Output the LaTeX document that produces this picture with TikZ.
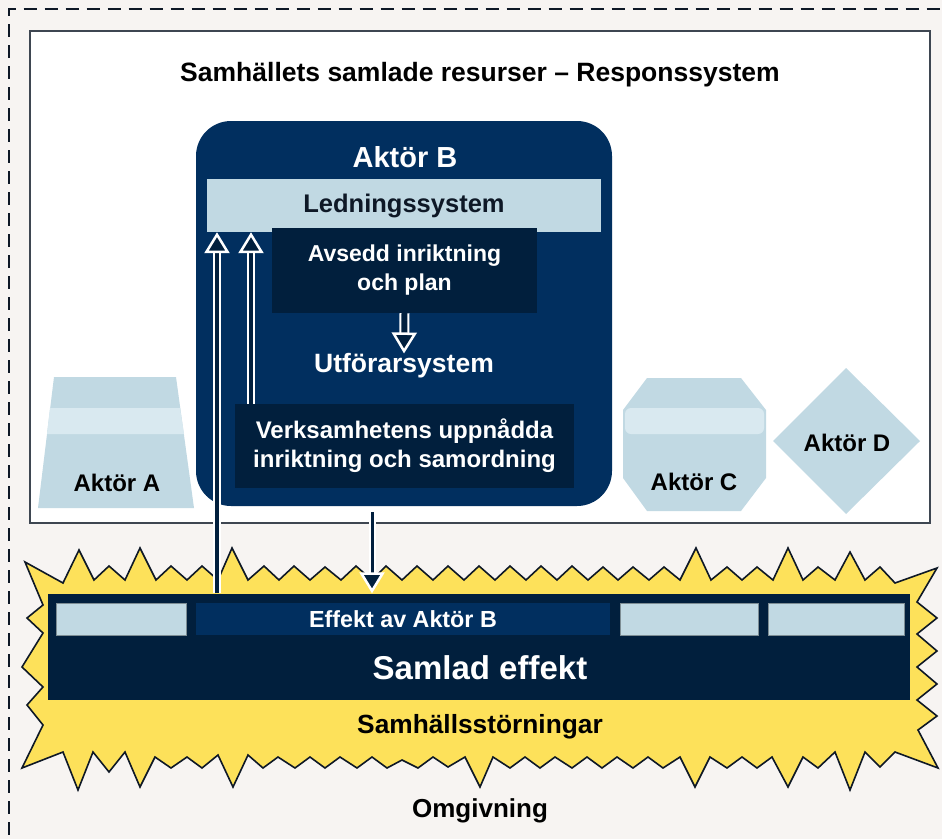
\documentclass[tikz,border=0pt]{standalone}
\usepackage{fontspec}
\setmainfont{Liberation Sans}
\usetikzlibrary{arrows.meta}

\definecolor{navy}{RGB}{1,47,95}
\definecolor{deep}{RGB}{1,31,61}
\definecolor{ice}{RGB}{193,217,227}
\definecolor{frost}{RGB}{217,233,240}
\definecolor{sun}{RGB}{253,225,90}
\definecolor{paper}{RGB}{247,244,242}
\definecolor{ink}{RGB}{14,24,38}

\newcommand\fsz[1]{\fontsize{#1}{29}\selectfont}

\begin{document}
\begin{tikzpicture}[x=1pt, y=-1pt,
    lbl/.style={font=\bfseries\fsz{#1}, inner sep=0pt},
    bar/.style={minimum width=#1, minimum height=32, inner sep=0pt},
    flow/.default=3.5,
    flow/.style={draw=deep, line width=#1,
      -{Triangle[width=25pt, length=21pt, line width'=2.5pt, color=white, fill=deep]},
      preaction={draw=white, line width=#1+4pt, shorten >=17pt, -}}]

  \useasboundingbox (0,0) rectangle (942,839);
  \fill[paper] (0,0) rectangle (942,839);
  \draw[ink, line width=2.5pt, dash pattern=on 13pt off 8pt, dash phase=16.5pt]
    (9,839) -- (9,9) -- (942,9);

  \draw[ink!80, line width=1.5pt, fill=white] (30,31) rectangle (930,523);
  \node[lbl=26.5] (title) at (480,75) {Samhällets samlade resurser – Responssystem};

  \node[fill=navy, rounded corners=35, minimum width=416, minimum height=385] (aktB) at (404,313.5) {};
  \node[lbl=29, text=white] (aktBtxt) at (405,157) {Aktör B};
  \node[fill=ice, minimum width=394, minimum height=53, lbl=25.5, text=ink] (led) at (404,205.5) {Ledningssystem};
  \node[fill=deep, minimum width=265, minimum height=85, lbl=23, text=white, align=center] (plan) at (404.5,270.5) {Avsedd inriktning\\och plan};
  \node[lbl=26.5, text=white] (utf) at (404,366) {Utförarsystem};
  \node[fill=deep, minimum width=339, minimum height=84, lbl=24, text=white, align=center] (verk) at (404.5,446) {Verksamhetens uppnådda\\inriktning och samordning};

  \fill[ice] (54,377) -- (176,377) -- (194,508) -- (38,508) -- cycle;
  \fill[frost] (50,408) -- (180,408) -- (184,434) -- (47,434) -- cycle;
  \node[lbl=24] (aktA) at (117,483) {Aktör A};

  \fill[ice] (647,378) -- (741,378) -- (766,410) -- (766,478) -- (741,511) -- (647,511) -- (623,478) -- (623,410) -- cycle;
  \fill[frost, rounded corners=6] (625,408) rectangle (764,434);
  \node[lbl=24] (aktC) at (694,482) {Aktör C};

  \fill[ice] (846,368) -- (920,441) -- (846,514) -- (773,441) -- cycle;
  \node[lbl=24] (aktD) at (847,443) {Aktör D};

  \filldraw[fill=sun, draw=ink, line width=1.6pt, line join=miter]
    (25,562) -- (63,583) -- (79,550) -- (94,580) -- (109,566) -- (125,580) -- (140,548) -- (156,580)
    -- (171,566) -- (187,580) -- (202,566) -- (218,580) -- (232,548) -- (248,580) -- (264,566)
    -- (279,580) -- (294,566) -- (310,580) -- (325,567) -- (341,580) -- (356,566) -- (372,580)
    -- (386,566) -- (402,580) -- (417,566) -- (433,580) -- (448,566) -- (464,580) -- (479,566)
    -- (495,580) -- (510,566) -- (526,580) -- (541,566) -- (557,580) -- (572,566) -- (588,580)
    -- (603,567) -- (618,580) -- (633,567) -- (649,580) -- (664,567) -- (680,580) -- (696,548)
    -- (711,580) -- (727,567) -- (742,580) -- (757,567) -- (773,580) -- (788,548) -- (803,580)
    -- (818,567) -- (835,580) -- (850,552) -- (865,580) -- (880,567) -- (895,583) -- (937,568)
    -- (917,602) -- (937,618) -- (917,634) -- (937,651) -- (917,667) -- (937,684) -- (917,700)
    -- (937,716) -- (918,730) -- (938,768)
    -- (895,752) -- (880,767) -- (865,752) -- (850,790) -- (835,752) -- (818,768) -- (803,757)
    -- (788,787) -- (772,757) -- (757,768) -- (742,757) -- (727,768) -- (710,757) -- (695,787)
    -- (680,757) -- (663,768) -- (648,757) -- (633,768) -- (617,757) -- (602,768) -- (587,757)
    -- (572,768) -- (555,757) -- (540,768) -- (525,757) -- (510,768) -- (493,757) -- (480,787)
    -- (465,757) -- (448,767) -- (433,757) -- (418,768) -- (402,760) -- (387,768) -- (372,757)
    -- (357,768) -- (340,757) -- (325,768) -- (310,757) -- (295,768) -- (278,757) -- (263,768)
    -- (248,755) -- (233,787) -- (218,755) -- (202,768) -- (187,757) -- (171,768) -- (155,757)
    -- (140,787) -- (125,752) -- (109,772) -- (93,752) -- (78,790) -- (63,752) -- (22,768)
    -- (43,725) -- (27,705) -- (43,687) -- (22,667) -- (43,633) -- (27,618) -- (43,605) -- cycle;

  \node[fill=deep, minimum width=862, minimum height=106, inner sep=0pt] (samlad) at (479,646.5) {};
  \node[bar=130, fill=ice, draw=ice!65!black, line width=0.6pt] (bar1) at (121,619) {};
  \node[bar=414, fill=navy, lbl=23.3, text=white] (effB) at (403,619) {Effekt av Aktör B};
  \node[bar=138, fill=ice, draw=ice!65!black, line width=0.6pt] (bar3) at (689,619) {};
  \node[bar=136, fill=ice, draw=ice!65!black, line width=0.6pt] (bar4) at (836,619) {};
  \node[lbl=33, text=white] (samladtxt) at (480,668) {Samlad effekt};
  \node[lbl=26.3] (storn) at (480,727) {Samhällsstörningar};
  \node[lbl=26] (omg) at (480,811) {Omgivning};

  \coordinate (xL) at (217,0);
  \coordinate (xR) at (251,0);
  \coordinate (xD) at (372,0);
  \draw[flow] (samlad.north -| xL) -- (led.south -| xL);
  \draw[flow] (verk.north -| xR) -- (led.south -| xR);
  \draw[flow=6] (plan.south) -- (utf.north);
  \draw[flow=3, shorten <=6pt] (aktB.south -| xD) -- (samlad.north -| xD);
\end{tikzpicture}
\end{document}
